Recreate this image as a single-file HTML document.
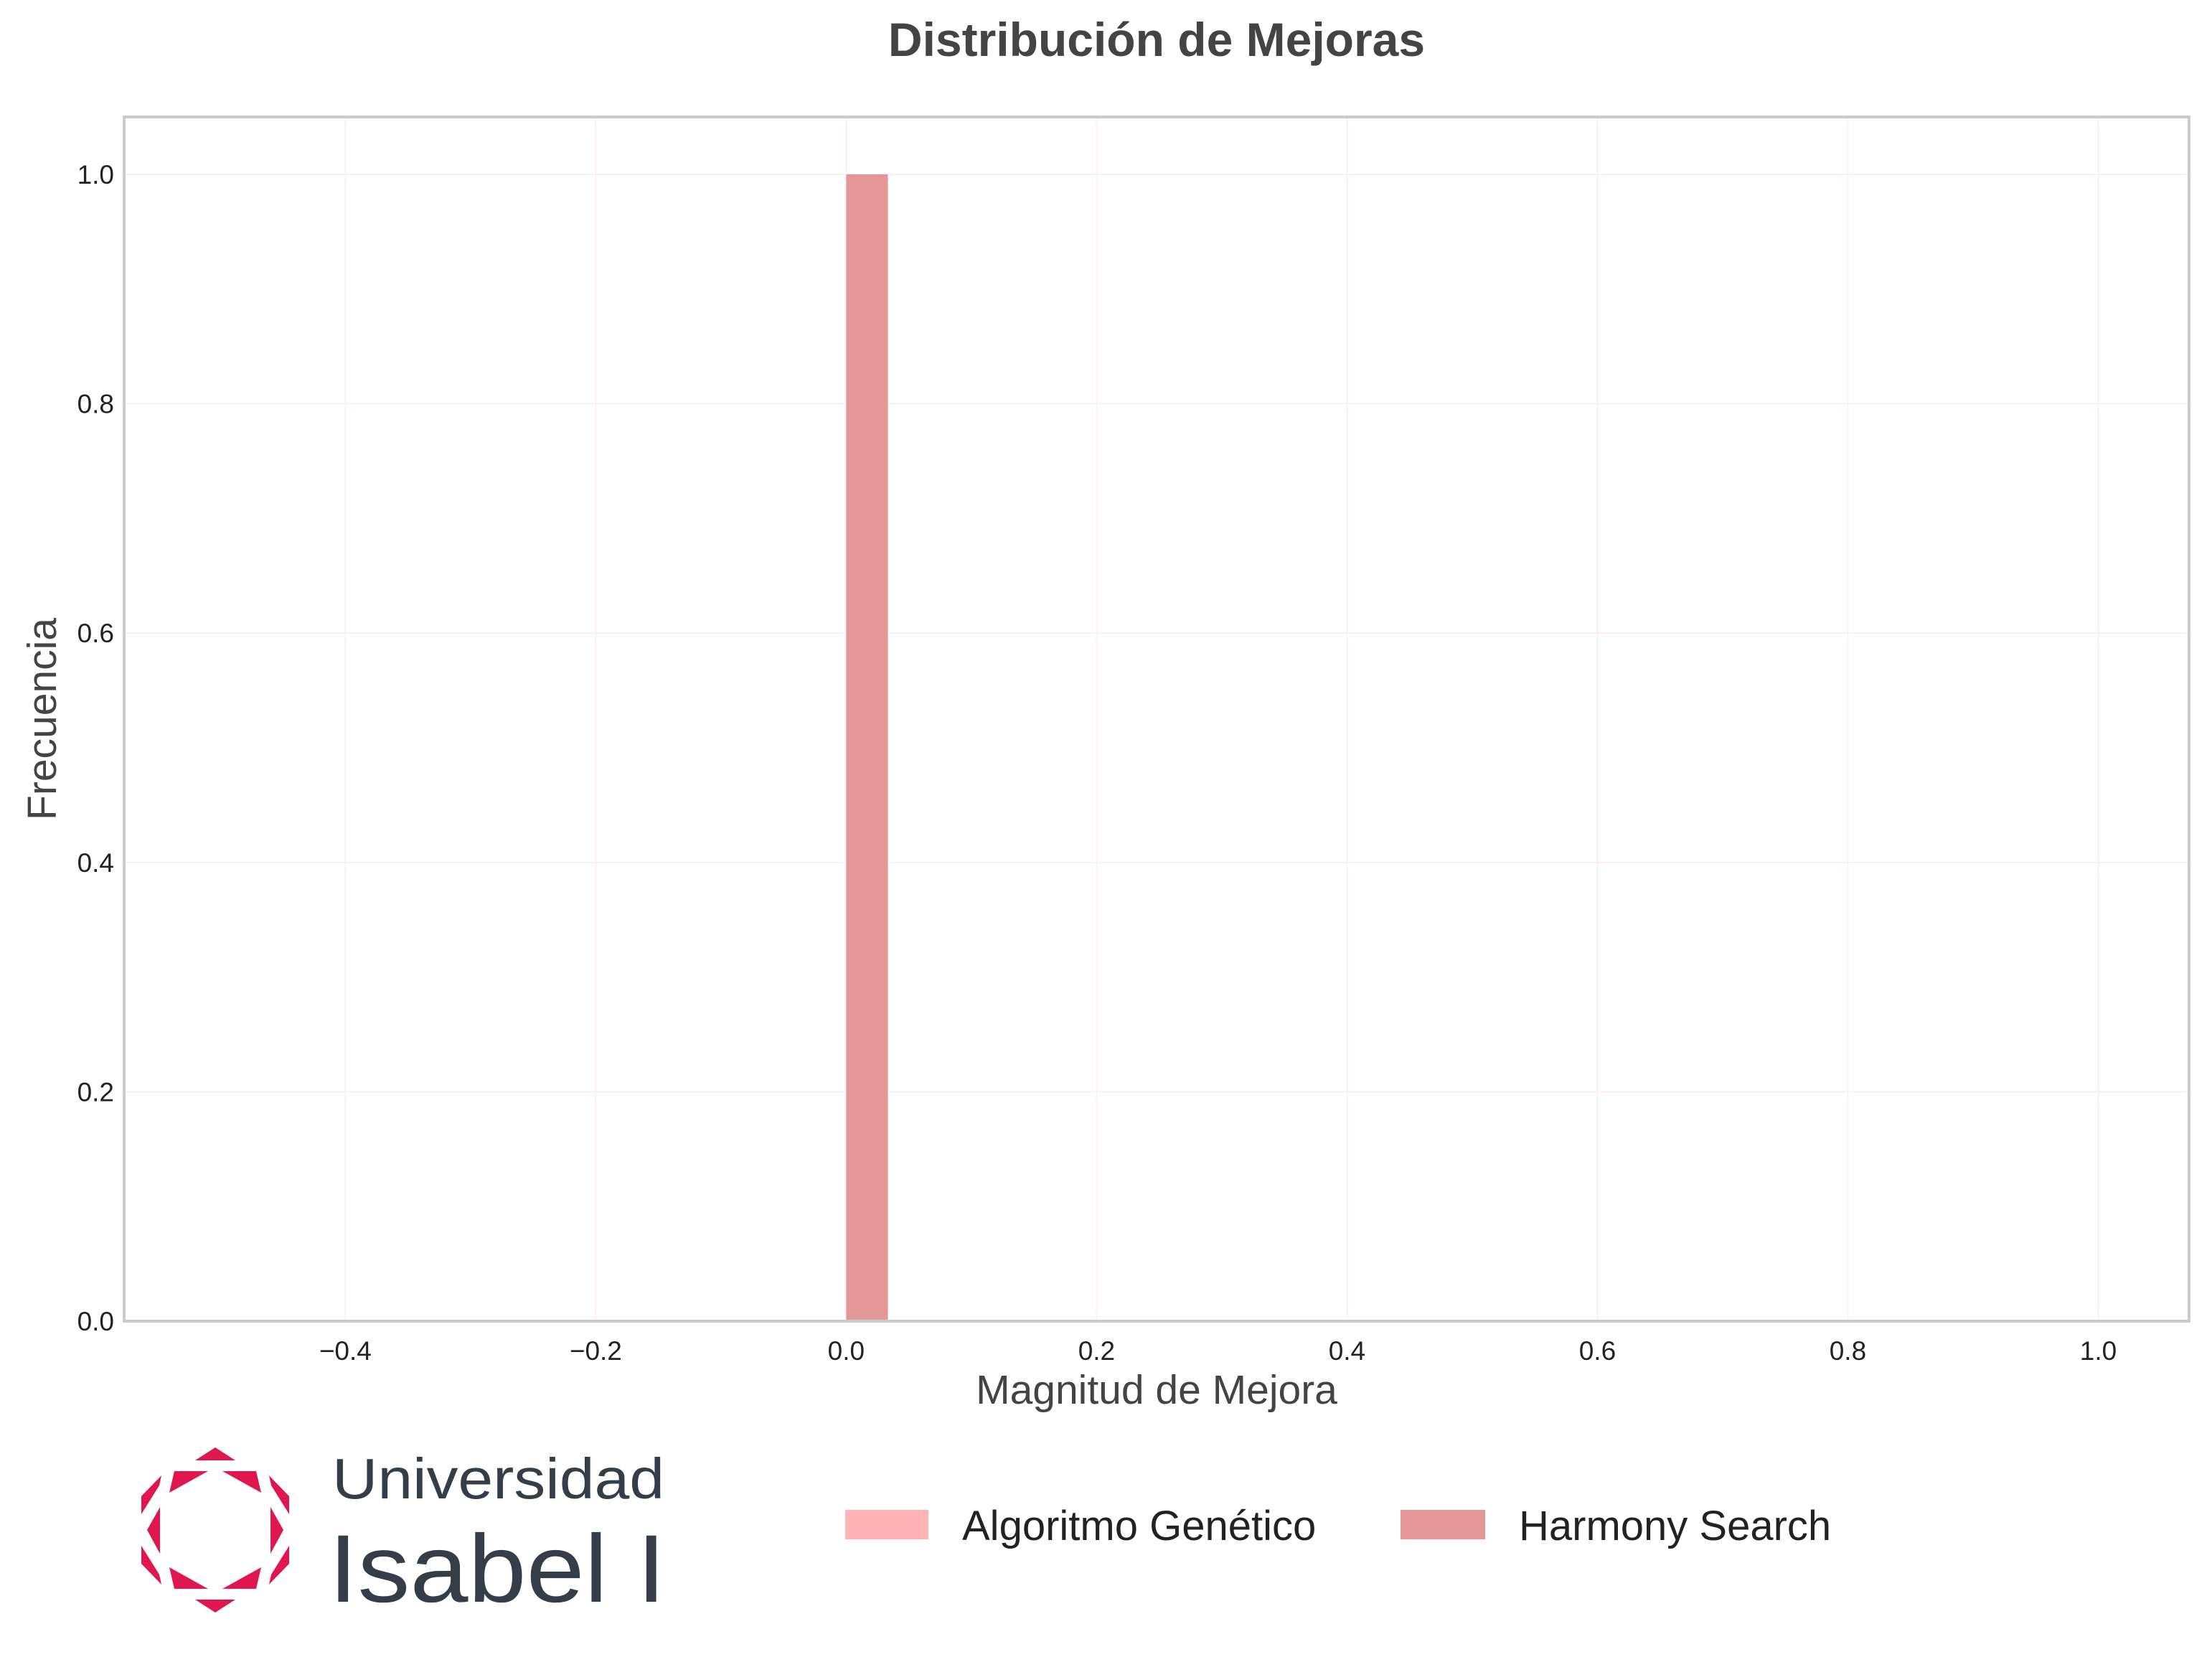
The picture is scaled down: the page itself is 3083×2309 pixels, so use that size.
<!DOCTYPE html>
<html><head><meta charset="utf-8"><style>
body{margin:0;background:#fff;}
svg text{font-family:"Liberation Sans",sans-serif;}
</style></head><body>
<svg width="3083" height="2304" viewBox="0 0 3083 2304" xmlns="http://www.w3.org/2000/svg">
<rect width="3083" height="2304" fill="#fff"/>
<text x="1612" y="78" font-size="66" font-weight="bold" fill="#444" text-anchor="middle">Distribución de Mejoras</text>
<g id="grid"></g>
<g id="bars"></g>
<rect x="173" y="163" width="2878" height="1678" fill="none" stroke="#cccccc" stroke-width="4"/>
<g id="ticks"></g>
<text x="1612" y="1956" font-size="57" fill="#444" text-anchor="middle">Magnitud de Mejora</text>
<text transform="translate(78,1002) rotate(-90)" font-size="57" fill="#444" text-anchor="middle">Frecuencia</text>
<g>
<rect x="1178" y="2104" width="116" height="41" fill="#ffb3b3"/>
<text x="1341" y="2146" font-size="58" fill="#222">Algoritmo Genético</text>
<rect x="1952" y="2104" width="118" height="41" fill="#e39797"/>
<text x="2117" y="2146" font-size="58" fill="#222">Harmony Search</text>
</g>
<g>
<g fill="#e0174f">
<polygon points="272,2035 300,2017 328,2035"/>
<polygon points="272,2229 300,2247 328,2229"/>
<polygon points="243,2050 290,2050 236,2080"/>
<polygon points="310,2050 357,2050 364,2080"/>
<polygon points="243,2214 290,2214 236,2184"/>
<polygon points="310,2214 357,2214 364,2184"/>
<polygon points="225,2056 197,2085 197,2110 222,2070"/>
<polygon points="375,2056 403,2085 403,2110 378,2070"/>
<polygon points="225,2208 197,2179 197,2154 222,2194"/>
<polygon points="375,2208 403,2179 403,2154 378,2194"/>
<polygon points="223,2100 205,2132 223,2165"/>
<polygon points="377,2100 395,2132 377,2165"/>
</g>
<text x="463" y="2088" font-family="DejaVu Sans,sans-serif" font-size="80" fill="#343e48" textLength="463" lengthAdjust="spacingAndGlyphs">Universidad</text>
<text x="458" y="2232" font-family="DejaVu Sans,sans-serif" font-size="134" fill="#343e48" textLength="470" lengthAdjust="spacingAndGlyphs">Isabel I</text>
</g>
</svg>
<script>
const binStarts=[0.0];
const gaCounts=[0];
const hsCounts=[1];
const binWidth=1/30;
const xTicks=[-0.4,-0.2,0.0,0.2,0.4,0.6,0.8,1.0];
const yTicks=[0.0,0.2,0.4,0.6,0.8,1.0];
const X0=173,X1=3051,Y0=1841,Y1=163,xmin=-0.5767,xmax=1.0725,ymin=0,ymax=1.05;
const sx=v=>X0+(v-xmin)/(xmax-xmin)*(X1-X0);
const sy=v=>Y0-(v-ymin)/(ymax-ymin)*(Y0-Y1);
const NS="http://www.w3.org/2000/svg";
const grid=document.getElementById('grid'),bars=document.getElementById('bars'),ticks=document.getElementById('ticks');
function mk(tag,attrs,parent){const e=document.createElementNS(NS,tag);for(const k in attrs)e.setAttribute(k,attrs[k]);parent.appendChild(e);return e;}
xTicks.forEach(t=>{
 const l=mk('line',{x1:sx(t),x2:sx(t),y1:Y1,y2:Y0,stroke:'#fdeff3','stroke-width':2},grid);
 
 
 const tx=mk('text',{x:sx(t),y:Y0+54,'font-size':37,fill:'#222','text-anchor':'middle'},ticks);
 tx.textContent=(t<0?'\u2212':'')+Math.abs(t).toFixed(1);
 
 
});
yTicks.forEach(t=>{
 const l=mk('line',{x1:X0,x2:X1,y1:sy(t),y2:sy(t),stroke:'#fdeff3','stroke-width':2},grid);
 
 
 const tx=mk('text',{x:X0-14,y:sy(t)+13,'font-size':37,fill:'#222','text-anchor':'end'},ticks);
 tx.textContent=t.toFixed(1);
 
 
});
binStarts.forEach((b,i)=>{
 if(gaCounts[i]>0){const r=mk('rect',{x:sx(b),y:sy(gaCounts[i]),width:sx(b+binWidth)-sx(b),height:sy(0)-sy(gaCounts[i]),fill:'#ffb3b3'},bars);
 
 }
 if(hsCounts[i]>0){const r=mk('rect',{x:sx(b),y:sy(hsCounts[i]),width:sx(b+binWidth)-sx(b),height:sy(0)-sy(hsCounts[i]),fill:'#e39797'},bars);
 
 }
});
</script>
</body></html>
